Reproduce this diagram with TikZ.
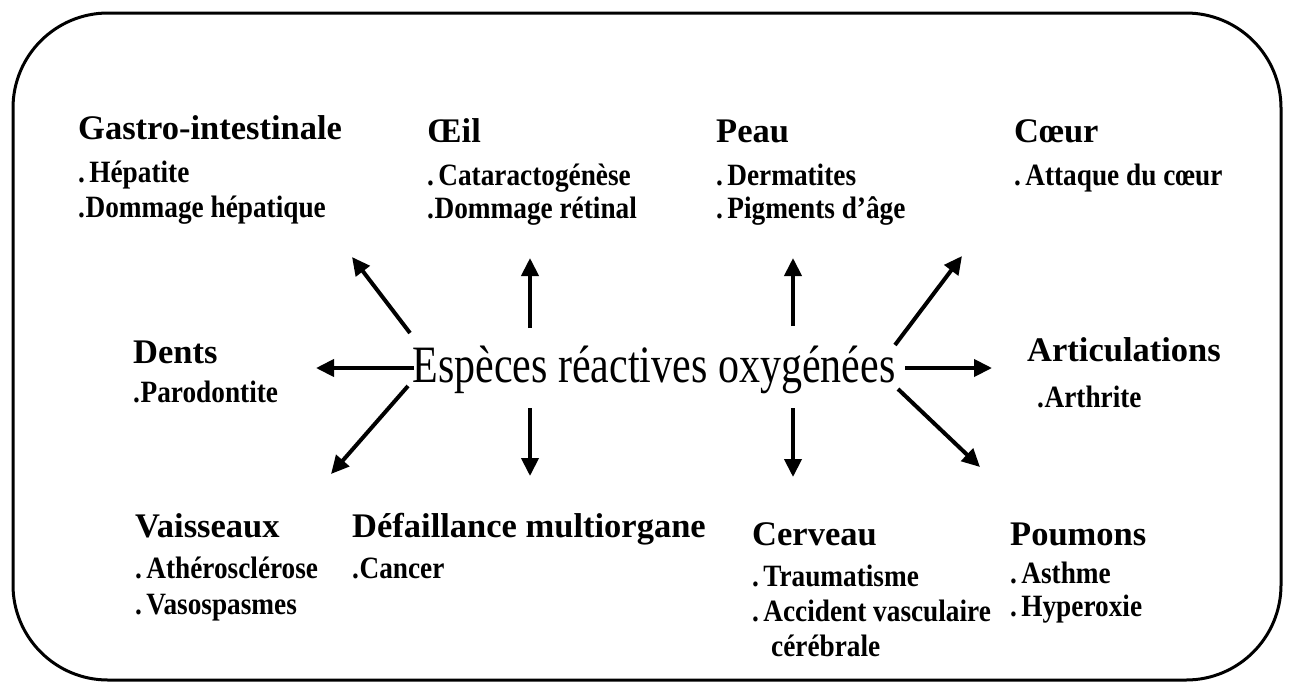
\documentclass[tikz,border=0pt]{standalone}
\usepackage{fontspec}
\setmainfont{Liberation Serif}
\newfontfamily\itemfont[FakeStretch=0.88]{Liberation Serif}
\newfontfamily\ctrfont[FakeStretch=0.8]{Liberation Serif}
\usetikzlibrary{arrows.meta}
\newcommand{\dsp}{.\hspace{0.14em}}
\newcommand{\dtg}{.\hspace{0.02em}}
\begin{document}
\begin{tikzpicture}[x=1pt,y=-1pt,
  ttl/.style={anchor=base west,inner sep=0pt,font=\fontsize{34.5}{36}\selectfont\bfseries},
  itm/.style={anchor=base west,inner sep=0pt,font=\itemfont\fontsize{31}{33}\selectfont\bfseries},
  ctr/.style={anchor=base,inner sep=0pt,font=\ctrfont\fontsize{52.5}{55}\selectfont},
  arr/.style={line width=4pt,-{Triangle[length=18pt,width=17pt]}},
  frame/.style={line width=3pt,rounded corners=95pt}]
\useasboundingbox (0,0) rectangle (1292,689);
\draw[frame] (13,13) rectangle (1281,680);

\node[ctr] (ero) at (654,382) {Espèces réactives oxygénées};

% Row 1
\node[ttl] (gi) at (78,139) {Gastro-intestinale};
\node[itm] (gi1) at (78,182) {\dsp Hépatite};
\node[itm] (gi2) at (78,217) {\dtg Dommage hépatique};

\node[ttl] (oe) at (427,142) {Œil};
\node[itm] (oe1) at (427,185) {\dsp Cataractogénèse};
\node[itm] (oe2) at (427,218) {\dtg Dommage rétinal};

\node[ttl] (pe) at (716,142) {Peau};
\node[itm] (pe1) at (716,185) {\dsp Dermatites};
\node[itm] (pe2) at (716,218) {\dsp Pigments d’âge};

\node[ttl] (co) at (1014,142) {Cœur};
\node[itm] (co1) at (1014,185) {\dsp Attaque du cœur};

% Row 2
\node[ttl] (de) at (133,363) {Dents};
\node[itm] (de1) at (133,402) {\dtg Parodontite};

\node[ttl] (ar) at (1027,361) {Articulations};
\node[itm] (ar1) at (1037,407) {\dtg Arthrite};

% Row 3
\node[ttl] (va) at (135,537) {Vaisseaux};
\node[itm] (va1) at (135,578) {\dsp Athérosclérose};
\node[itm] (va2) at (135,614) {\dsp Vasospasmes};

\node[ttl] (df) at (352,537) {Défaillance multiorgane};
\node[itm] (df1) at (352,578) {\dtg Cancer};

\node[ttl] (ce) at (752,545) {Cerveau};
\node[itm] (ce1) at (752,586) {\dsp Traumatisme};
\node[itm] (ce2) at (752,621) {\dsp Accident vasculaire};
\node[itm] (ce3) at (771,656) {cérébrale};

\node[ttl] (po) at (1010,545) {Poumons};
\node[itm] (po1) at (1010,583) {\dsp Asthme};
\node[itm] (po2) at (1010,616) {\dsp Hyperoxie};

% arrow end points
\coordinate (sgi) at (410,333); \coordinate (egi) at (352,257);
\coordinate (soe) at (530,328); \coordinate (eoe) at (530,258);
\coordinate (spe) at (793,326); \coordinate (epe) at (793,258);
\coordinate (sco) at (895,345); \coordinate (eco) at (962,256);
\coordinate (sde) at (414,368); \coordinate (ede) at (316,368);
\coordinate (sar) at (905,368); \coordinate (ear) at (992,368);
\coordinate (sva) at (408,386); \coordinate (eva) at (331,474);
\coordinate (sdf) at (530,408); \coordinate (edf) at (530,476);
\coordinate (sce) at (793,408); \coordinate (ece) at (793,477);
\coordinate (spo) at (898,389); \coordinate (epo) at (980,467);

\draw[arr] (sgi) -- (egi);
\draw[arr] (soe) -- (eoe);
\draw[arr] (spe) -- (epe);
\draw[arr] (sco) -- (eco);
\draw[arr] (sde) -- (ede);
\draw[arr] (sar) -- (ear);
\draw[arr] (sva) -- (eva);
\draw[arr] (sdf) -- (edf);
\draw[arr] (sce) -- (ece);
\draw[arr] (spo) -- (epo);
\end{tikzpicture}
\end{document}
